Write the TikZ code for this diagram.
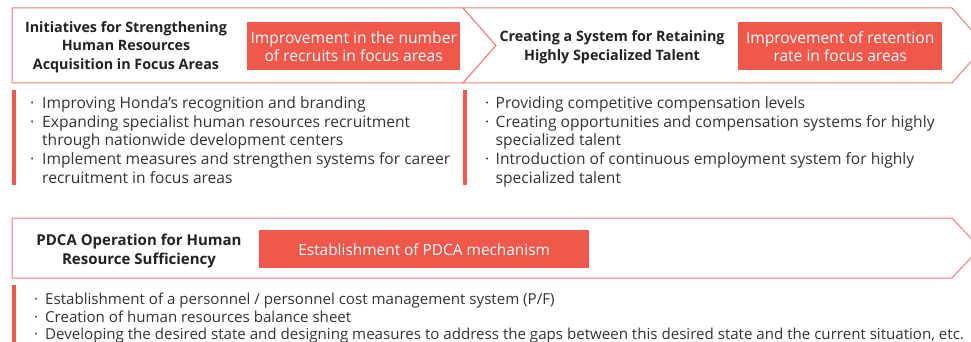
\documentclass[tikz,border=0pt]{standalone}
\usepackage{fontspec}
\setmainfont{Open Sans}
\definecolor{hred}{HTML}{F0584B}
\definecolor{hline}{HTML}{EE7F77}
\definecolor{htext}{HTML}{333333}
\definecolor{htitle}{HTML}{222222}
\newcommand\mybul[1]{\makebox[#1][l]{·}}
\begin{document}
\begin{tikzpicture}[x=1pt,y=-1pt,
  chev/.style={draw=hline, line width=1pt, fill=white, line join=miter},
  redbox/.style={fill=hred, draw=none, text=white, align=center, inner sep=0pt,
    font=\fontsize{15.6}{18}\selectfont},
  titletext/.style={font=\bfseries\fontsize{14.3}{18.5}\selectfont, align=center, text=htitle, inner sep=0pt},
  bline/.style={anchor=base west, inner sep=0pt, text=htext, font=\fontsize{15.6}{18}\selectfont},
  bline3/.style={bline, font=\fontsize{15.1}{18}\selectfont},
  bar/.style={fill=hred, draw=none}]
\useasboundingbox (0,0) rectangle (971,342);
\fill[white] (0,0) rectangle (971,342);
% chevrons
\draw[chev] (12,8) -- (463,8) -- (496,45.5) -- (463,83) -- (12,83) -- cycle;
\draw[chev] (463,8) -- (952,8) -- (985,45.5) -- (952,83) -- (463,83) -- (496,45.5) -- cycle;
\draw[chev] (12,218) -- (952,218) -- (980,248) -- (952,278) -- (12,278) -- cycle;
% titles
\node[titletext] (t1) at (126,47) {Initiatives for Strengthening\\Human Resources\\Acquisition in Focus Areas};
\node[titletext] (t2) at (612,47) {Creating a System for Retaining\\Highly Specialized Talent};
\node[titletext, font=\bfseries\fontsize{15}{18.5}\selectfont] (t3) at (139,251) {PDCA Operation for Human\\Resource Sufficiency};
% red boxes
\node[redbox, minimum width=213pt, minimum height=48pt, anchor=north west] (r1) at (247,22) {Improvement in the number\\of recruits in focus areas};
\node[redbox, minimum width=204pt, minimum height=48pt, anchor=north west] (r2) at (738,22) {Improvement of retention\\rate in focus areas};
\node[redbox, minimum width=330pt, minimum height=38pt, anchor=north west, font=\fontsize{15.4}{18}\selectfont] (r3) at (259,230) {Establishment of PDCA mechanism};
% bars
\fill[bar] (12,90) rectangle (16,185);
\fill[bar] (463,90) rectangle (467,185);
\fill[bar] (12,285) rectangle (16,345);
% list 1
\node[bline] (a1) at (30,109) {\mybul{12pt}Improving Honda’s recognition and branding};
\node[bline] (a2) at (30,127.5) {\mybul{12pt}Expanding specialist human resources recruitment};
\node[bline] (a3) at (42,146) {through nationwide development centers};
\node[bline] (a4) at (30,164.5) {\mybul{12pt}Implement measures and strengthen systems for career};
\node[bline] (a5) at (42,183) {recruitment in focus areas};
% list 2
\node[bline] (b1) at (485,109) {\mybul{10.5pt}Providing competitive compensation levels};
\node[bline] (b2) at (485,127.5) {\mybul{10.5pt}Creating opportunities and compensation systems for highly};
\node[bline] (b3) at (495.5,146) {specialized talent};
\node[bline] (b4) at (485,164.5) {\mybul{10.5pt}Introduction of continuous employment system for highly};
\node[bline] (b5) at (495.5,183) {specialized talent};
% list 3
\node[bline3] (c1) at (34,304) {\mybul{11pt}Establishment of a personnel / personnel cost management system (P/F)};
\node[bline3] (c2) at (34,322) {\mybul{11pt}Creation of human resources balance sheet};
\node[bline3] (c3) at (34,339.5) {\mybul{11pt}Developing the desired state and designing measures to address the gaps between this desired state and the current situation, etc.};
\end{tikzpicture}
\end{document}
